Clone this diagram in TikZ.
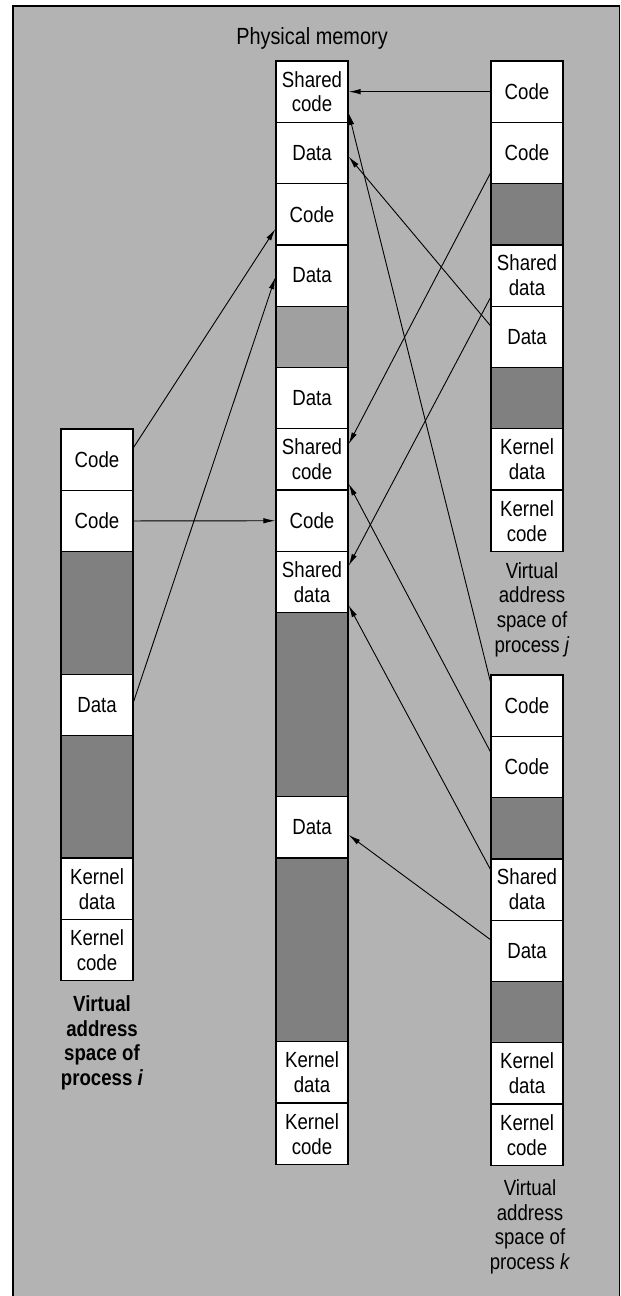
\documentclass[tikz,border=0pt]{standalone}
\usepackage{fontspec}
\setmainfont{Liberation Sans}[FakeStretch=0.85]
\usetikzlibrary{arrows.meta}
\definecolor{panelgray}{HTML}{B3B3B3}
\definecolor{holegray}{HTML}{808080}
\definecolor{resgray}{HTML}{A0A0A0}

% one memory cell: name, centre x, column top, first unit, number of units, fill, text
\newcommand{\memrow}[7]{%
  \node[memcell, fill=#6, minimum height=#5*61.3bp] (#1) at (#2, {#3+(#4+#5/2)*61.3}) {#7};}

\begin{document}
\begin{tikzpicture}[x=1bp,y=-1bp,
  memcell/.style={draw=black, line width=1.3bp, minimum width=72bp, inner sep=0pt,
    align=center, font=\fontsize{22}{25}\selectfont, text=black},
  map/.style={line width=0.9bp, -{Latex[length=12bp,width=5.5bp]}},
  caption/.style={align=center, inner sep=0pt, anchor=north,
    font=\fontsize{22}{25}\selectfont}
]
\useasboundingbox (0,0) rectangle (621,1296);
\fill[white] (0,0) rectangle (621,1296);
\fill[panelgray] (13,6) rectangle (619.5,1296);
\draw[line width=1.5bp] (13,1296) -- (13,6) -- (619.5,6) -- (619.5,1296);

% physical memory
\memrow{pA}{312}{61}{0}{1}{white}{Shared\\code}
\memrow{pB}{312}{61}{1}{1}{white}{Data}
\memrow{pC}{312}{61}{2}{1}{white}{Code}
\memrow{pD}{312}{61}{3}{1}{white}{Data}
\memrow{pE}{312}{61}{4}{1}{resgray}{}
\memrow{pF}{312}{61}{5}{1}{white}{Data}
\memrow{pG}{312}{61}{6}{1}{white}{Shared\\code}
\memrow{pH}{312}{61}{7}{1}{white}{Code}
\memrow{pI}{312}{61}{8}{1}{white}{Shared\\data}
\memrow{pJ}{312}{61}{9}{3}{holegray}{}
\memrow{pK}{312}{61}{12}{1}{white}{Data}
\memrow{pL}{312}{61}{13}{3}{holegray}{}
\memrow{pM}{312}{61}{16}{1}{white}{Kernel\\data}
\memrow{pN}{312}{61}{17}{1}{white}{Kernel\\code}

% process i
\memrow{iA}{97}{429}{0}{1}{white}{Code}
\memrow{iB}{97}{429}{1}{1}{white}{Code}
\memrow{iC}{97}{429}{2}{2}{holegray}{}
\memrow{iD}{97}{429}{4}{1}{white}{Data}
\memrow{iE}{97}{429}{5}{2}{holegray}{}
\memrow{iF}{97}{429}{7}{1}{white}{Kernel\\data}
\memrow{iG}{97}{429}{8}{1}{white}{Kernel\\code}

% process j
\memrow{jA}{527}{61}{0}{1}{white}{Code}
\memrow{jB}{527}{61}{1}{1}{white}{Code}
\memrow{jC}{527}{61}{2}{1}{holegray}{}
\memrow{jD}{527}{61}{3}{1}{white}{Shared\\data}
\memrow{jE}{527}{61}{4}{1}{white}{Data}
\memrow{jF}{527}{61}{5}{1}{holegray}{}
\memrow{jG}{527}{61}{6}{1}{white}{Kernel\\data}
\memrow{jH}{527}{61}{7}{1}{white}{Kernel\\code}

% process k
\memrow{kA}{527}{675}{0}{1}{white}{Code}
\memrow{kB}{527}{675}{1}{1}{white}{Code}
\memrow{kC}{527}{675}{2}{1}{holegray}{}
\memrow{kD}{527}{675}{3}{1}{white}{Shared\\data}
\memrow{kE}{527}{675}{4}{1}{white}{Data}
\memrow{kF}{527}{675}{5}{1}{holegray}{}
\memrow{kG}{527}{675}{6}{1}{white}{Kernel\\data}
\memrow{kH}{527}{675}{7}{1}{white}{Kernel\\code}

% captions
\node[anchor=base, inner sep=0pt, font=\fontsize{23.5}{25}\selectfont] (physcap) at (312,44) {Physical memory};
\node[caption, font=\bfseries\fontsize{22}{25}\selectfont] (capI) at (102,995)
  {Virtual\\address\\space of\\process \textit{i}};
\node[caption] (capJ) at (532,562) {Virtual\\address\\space of\\process \textit{j}};
\node[caption] (capK) at (530,1179) {Virtual\\address\\space of\\process \textit{k}};

% page mappings of process j
\draw[map] (jA.west) -- (pA.east);
\draw[map] ([yshift=11bp]jB.south west) -- ([yshift=-16bp]pG.north east);
\draw[map] ([yshift=9bp]jD.south west) -- ([yshift=-15bp]pI.north east);
\draw[map] ([yshift=-20bp]jE.north west) -- ([yshift=-35bp]pB.north east);

% page mappings of process k
\draw[map] ([yshift=-7bp]kA.north west) -- ([yshift=10bp]pA.south east);
\draw[map] ([yshift=-16bp]kB.north west) -- ([yshift=7bp]pG.south east);
\draw[map] ([yshift=-11bp]kD.north west) -- ([yshift=8bp]pI.south east);
\draw[map] ([yshift=-20bp]kE.north west) -- ([yshift=-39bp]pK.north east);

% page mappings of process i
\draw[map] ([yshift=-19bp]iA.north east) -- ([yshift=-46bp]pC.north west);
\draw[map] (iB.east) -- (pH.west);
\draw[map] ([yshift=-28bp]iD.north east) -- ([yshift=-33bp]pD.north west);
\end{tikzpicture}
\end{document}
